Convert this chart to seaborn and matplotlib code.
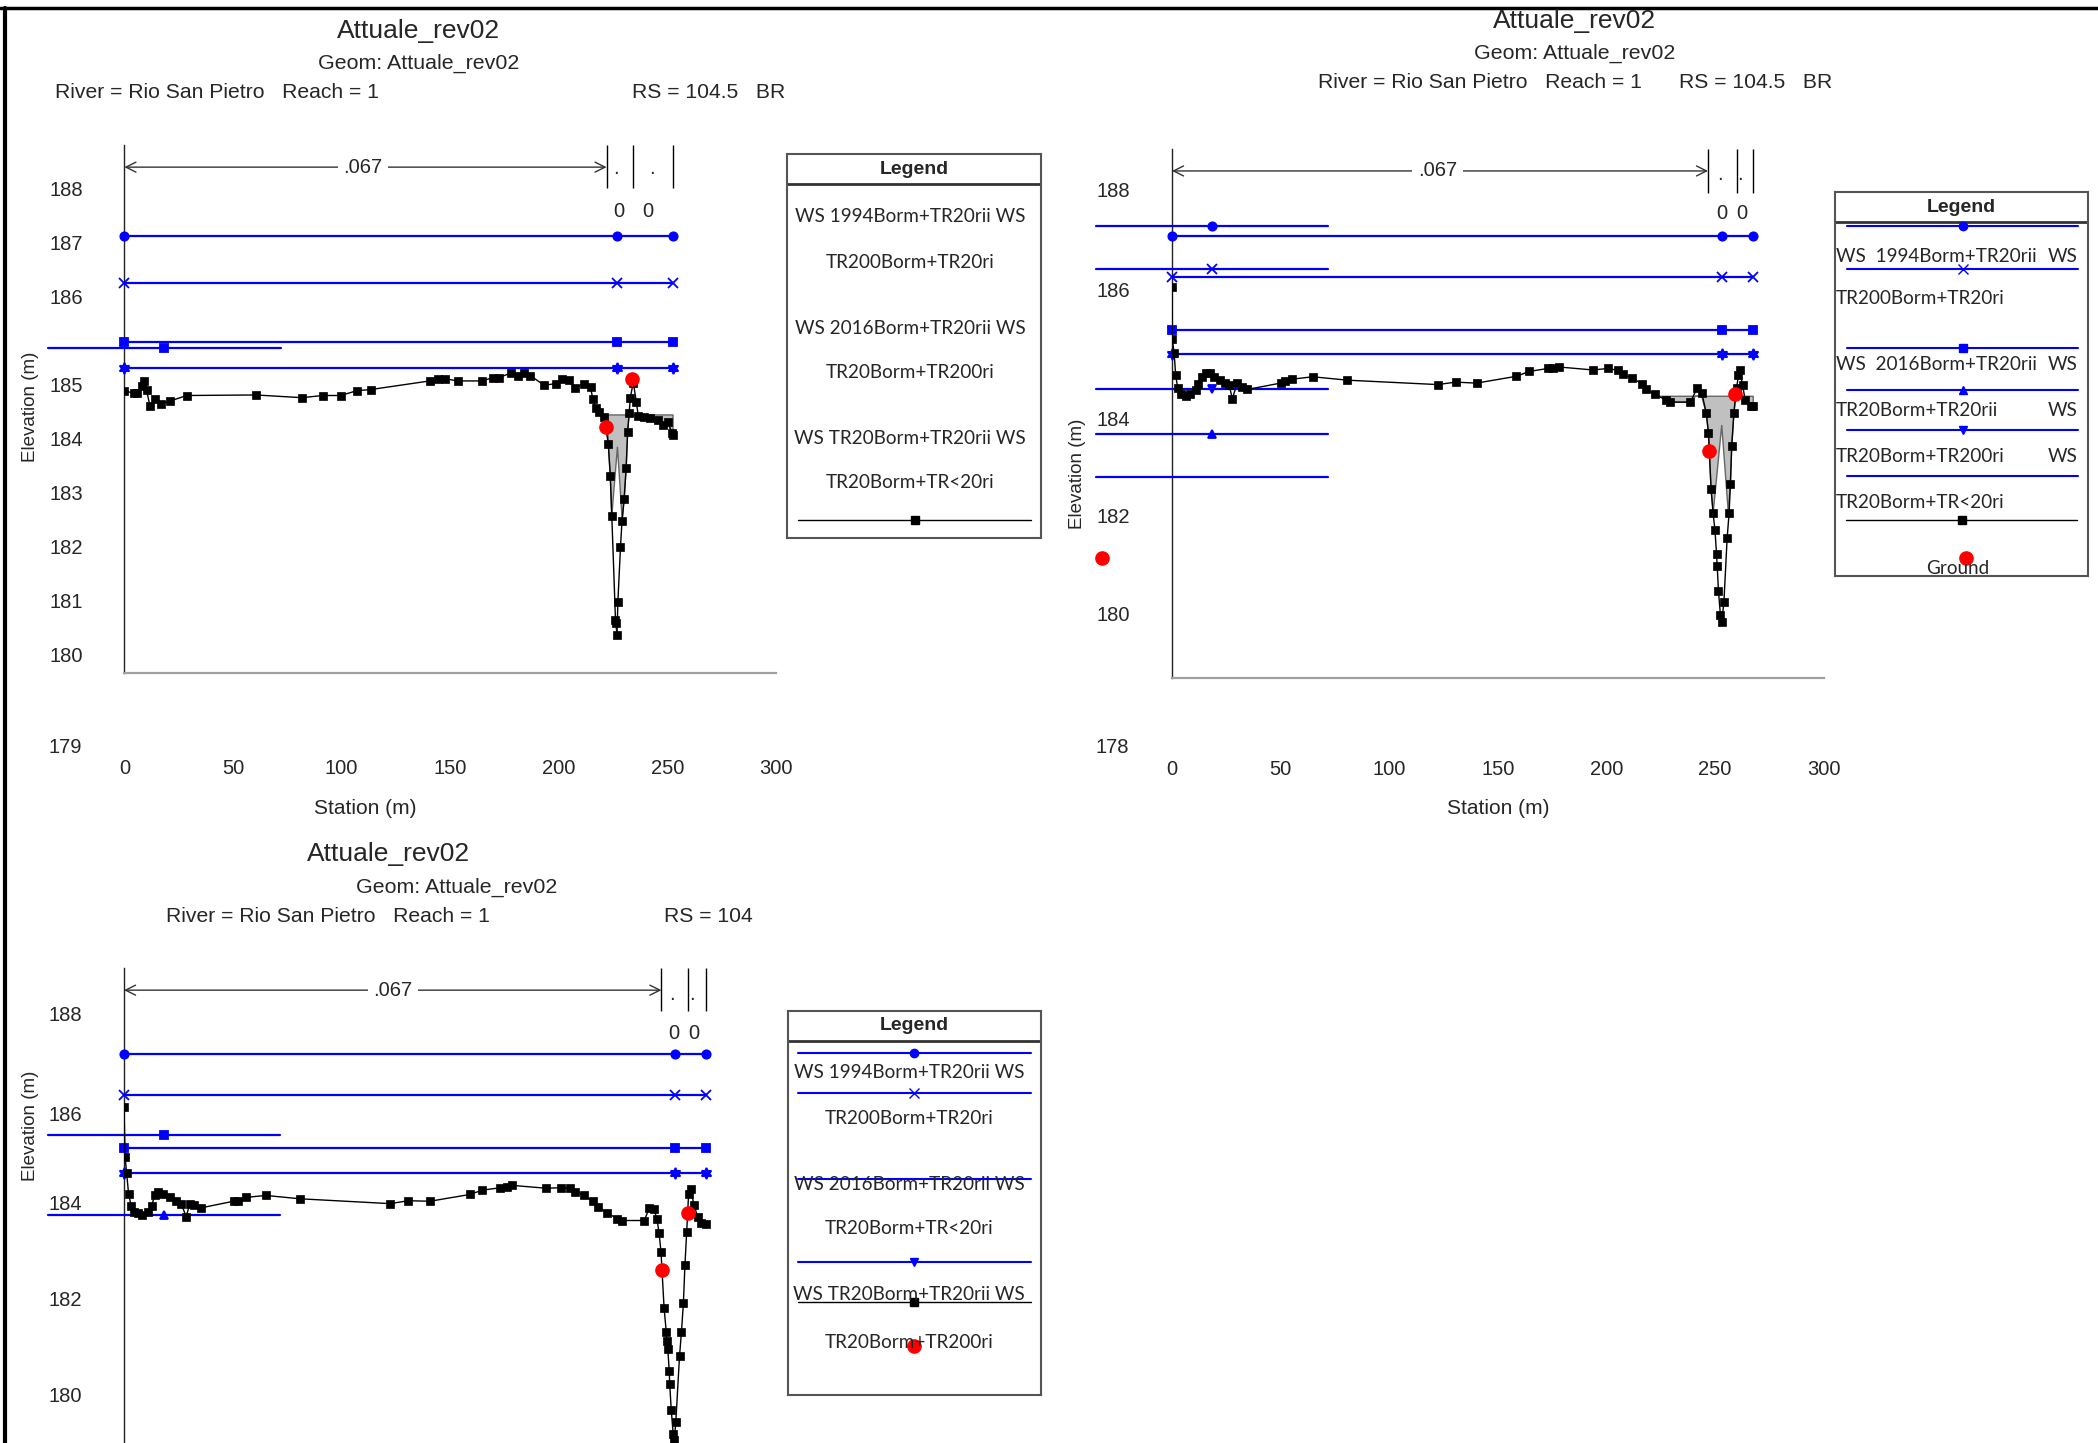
import matplotlib
matplotlib.use('Agg')
import matplotlib.pyplot as plt
from matplotlib.lines import Line2D
from matplotlib.ticker import MultipleLocator
import seaborn as sns

sns.set_style('white')
plt.rcParams['font.family'] = ['Liberation Sans', 'DejaVu Sans']

W, H = 2098, 1443
BLUE = '#0000ff'
STAR = (6, 1, 0)
LEG_FONT = ['Lato', 'DejaVu Sans']

# ---------------- data: station (m), elevation (m) ----------------
x_ticks = [0, 50, 100, 150, 200, 250, 300]
x_ticklabels = ['0', '50', '100', '150', '200', '250', '300']
stray_x = [-35, 72]          # short WS stubs drawn left of the sections
stray_mark_x = 18.4

# RS = 104.5 BR, top left
p1_ground_x = [0, 4.3, 5.7, 8.0, 9.2, 10.2, 11.8, 13.9, 17.0, 21.2, 28.7, 60.4, 81.7, 91.4,
               99.6, 107.1, 113.4, 140.6, 144.2, 147.7, 153.5, 164.8, 169.5, 172.3, 178.2,
               181.0, 183.8, 186.9, 193.2, 198.6, 201.7, 204.5, 207.3, 211.5, 214.6, 215.7,
               216.9, 218.6, 220.9, 222.8, 223.7, 224.4, 226.1, 226.3, 226.8, 227.2, 228.4,
               229.1, 230.1, 231.0, 231.7, 232.4, 232.9, 234.3, 235.7, 236.6, 239.0, 242.0,
               245.5, 247.9, 250.2, 252.1, 252.6]
p1_ground_y = [184.88, 184.83, 184.84, 184.96, 185.06, 184.89, 184.59, 184.72, 184.64, 184.69,
               184.79, 184.80, 184.75, 184.79, 184.79, 184.88, 184.90, 185.06, 185.10, 185.10,
               185.06, 185.06, 185.12, 185.12, 185.21, 185.16, 185.20, 185.16, 184.98, 185.01,
               185.10, 185.08, 184.92, 185.01, 184.94, 184.72, 184.55, 184.49, 184.40, 183.89,
               183.30, 182.56, 180.63, 180.57, 180.35, 180.97, 181.98, 182.47, 182.88, 183.44,
               184.12, 184.46, 184.75, 185.03, 184.67, 184.41, 184.40, 184.38, 184.33, 184.24,
               184.30, 184.09, 184.06]
p1_bank_x = [221.8, 233.8]
p1_bank_y = [184.21, 185.09]
p1_ws_x = [0, 226.7, 252.6]
p1_ws_y = [187.75, 186.88, 185.79, 185.30]
p1_stray_y = [185.67]
p1_deck_x = [222.4, 222.8, 223.7, 224.4, 227.0, 229.2, 230.1, 231.0, 231.7, 232.3, 236.6,
             239.0, 242.0, 245.5, 247.9, 250.2, 252.1, 252.6, 252.6]
p1_deck_y = [184.43, 183.89, 183.30, 182.56, 183.84, 182.48, 182.88, 183.44, 184.12, 184.43,
             184.41, 184.40, 184.38, 184.33, 184.24, 184.30, 184.09, 184.06, 184.43]
p1_n_x = [222.0, 234.0, 252.6]
p1_dot_x = [226.1, 242.7]
p1_zero_x = [227.6, 241.0]
p1_yticks = [180, 181, 182, 183, 184, 185, 186.62, 187.62, 188.62]
p1_yticklabels = ['180', '181', '182', '183', '184', '185', '186', '187', '188']

# RS = 104.5 BR, top right
p2_ground_x = [0.0, 0.1, 1.0, 1.7, 2.6, 4.1, 6.6, 8.4, 10.9, 12.1, 14.0, 15.5, 17.7, 19.2, 22.3,
               24.4, 26.3, 27.8, 30.0, 32.1, 34.6, 50.0, 52.1, 55.2, 64.8, 80.8, 122.3, 130.6,
               140.2, 158.6, 164.5, 173.1, 175.3, 178.3, 193.7, 200.8, 205.4, 207.6, 211.6,
               216.2, 218.4, 222.3, 227.6, 229.4, 238.7, 241.7, 243.9, 246.0, 247.0, 248.2,
               249.1, 250.0, 250.7, 251.0, 251.6, 252.5, 253.1, 254.1, 255.6, 256.5, 257.1,
               257.7, 258.7, 259.9, 260.8, 261.4, 262.7, 263.9, 266.4, 267.6]
p2_ground_y = [186.69, 185.63, 185.33, 184.88, 184.63, 184.49, 184.45, 184.50, 184.57, 184.71,
               184.85, 184.93, 184.92, 184.85, 184.78, 184.72, 184.68, 184.40, 184.72, 184.64,
               184.59, 184.72, 184.76, 184.80, 184.85, 184.78, 184.69, 184.74, 184.72, 184.86,
               184.96, 185.02, 185.03, 185.05, 184.99, 185.02, 184.98, 184.90, 184.83, 184.71,
               184.59, 184.49, 184.37, 184.33, 184.33, 184.61, 184.52, 184.10, 183.69, 182.54,
               182.06, 181.70, 181.22, 180.98, 180.46, 179.96, 179.82, 180.23, 181.55, 182.06,
               182.66, 183.43, 184.10, 184.61, 184.88, 184.98, 184.68, 184.37, 184.25, 184.25]
p2_bank_x = [247.3, 259.3]
p2_bank_y = [183.33, 184.49]
p2_stray_dot = (-32.0, 181.13)
p2_ws_x = [0, 253.1, 267.5]
p2_ws_y = [187.74, 186.90, 185.81, 185.31]
p2_stray_y = [187.94, 187.06, 184.60, 183.67, 182.80]
p2_deck_x = [224.7, 229.4, 238.7, 241.0, 243.9, 246.0, 247.0, 248.2, 249.2, 253.1, 256.1,
             257.1, 257.7, 258.7, 259.4, 263.0, 263.9, 266.4, 267.6, 267.6]
p2_deck_y = [184.45, 184.33, 184.33, 184.45, 184.45, 184.10, 183.69, 182.54, 182.08, 183.86,
             182.08, 182.66, 183.43, 184.10, 184.45, 184.45, 184.37, 184.25, 184.25, 184.45]
p2_n_x = [246.8, 259.9, 267.5]
p2_dot_x = [252.2, 261.4]
p2_zero_x = [253.2, 262.4]
p2_yticks = [180, 182, 184, 186.63, 188.68]
p2_yticklabels = ['180', '182', '184', '186', '188']

# RS = 104, bottom left
p3_ground_x = [0, 0.5, 1.2, 2.1, 3.3, 4.4, 6.3, 8.2, 11.0, 12.7, 14.1, 15.7, 18.1, 21.1, 24.0,
               26.3, 28.6, 30.3, 32.1, 35.2, 50.4, 52.3, 56.3, 65.2, 81.2, 122.5, 130.7, 140.8,
               159.1, 164.9, 173.2, 176.0, 178.4, 194.1, 201.1, 205.3, 207.7, 211.7, 215.7,
               218.0, 222.2, 226.9, 229.3, 239.4, 241.7, 243.8, 245.2, 246.2, 247.1, 248.5,
               249.5, 249.7, 250.2, 250.9, 251.1, 251.8, 252.7, 253.2, 253.9, 255.6, 256.5,
               257.4, 258.1, 258.9, 259.8, 261.0, 262.1, 264.0, 265.6, 267.8]
p3_ground_y = [185.98, 184.94, 184.61, 184.18, 183.92, 183.80, 183.77, 183.74, 183.80, 183.92,
               184.14, 184.21, 184.18, 184.10, 184.02, 183.97, 183.70, 183.97, 183.95, 183.88,
               184.02, 184.03, 184.10, 184.14, 184.07, 183.97, 184.03, 184.02, 184.16, 184.25,
               184.30, 184.32, 184.35, 184.29, 184.30, 184.29, 184.22, 184.14, 184.02, 183.91,
               183.78, 183.66, 183.62, 183.62, 183.88, 183.85, 183.66, 183.36, 182.96, 181.81,
               181.31, 181.11, 180.95, 180.49, 180.22, 179.69, 179.19, 179.07, 179.44, 180.80,
               181.31, 181.91, 182.70, 183.38, 184.18, 184.28, 183.95, 183.70, 183.56, 183.54]
p3_bank_x = [247.4, 259.3]
p3_bank_y = [182.59, 183.77]
p3_ws_x = [0, 253.3, 267.8]
p3_ws_y = [187.07, 186.23, 185.12, 184.60]
p3_stray_y = [185.40, 183.73]
p3_n_x = [247.3, 259.4, 267.7]
p3_dot_x = [252.1, 261.3]
p3_zero_x = [253.1, 262.1]
p3_yticks = [180, 182, 184, 185.85, 187.92]
p3_yticklabels = ['180', '182', '184', '186', '188']

legend1_rows = ['WS 1994Borm+TR20rii WS', 'TR200Borm+TR20ri', 'WS 2016Borm+TR20rii WS',
                'TR20Borm+TR200ri', 'WS TR20Borm+TR20rii WS', 'TR20Borm+TR<20ri']
legend2_rows = [('WS  1994Borm+TR20rii', 'WS'), ('TR200Borm+TR20ri', ''),
                ('WS  2016Borm+TR20rii', 'WS'), ('TR20Borm+TR20rii', 'WS'),
                ('TR20Borm+TR200ri', 'WS'), ('TR20Borm+TR<20ri', '')]
legend3_rows = ['WS 1994Borm+TR20rii WS', 'TR200Borm+TR20ri', 'WS 2016Borm+TR20rii WS',
                'TR20Borm+TR<20ri', 'WS TR20Borm+TR20rii WS', 'TR20Borm+TR200ri']

ws_marks = ['o', 'x', 's', STAR]
mark_size = {'o': 6, 'x': 7, 's': 6, STAR: 8, '^': 6, 'v': 6, None: 0}

fig = plt.figure(figsize=(W / 100, H / 100), dpi=100)


def px_axes(left, top, right, bottom):
    return fig.add_axes([left / W, 1 - bottom / H, (right - left) / W, (bottom - top) / H])


def ftext(x, y, s, size, ha='center', **kw):
    fig.text(x / W, 1 - y / H, s, ha=ha, va='center', fontsize=size, **kw)


def blue_line(ax, xs, y, m, clip=True):
    sns.lineplot(x=xs, y=[y] * len(xs), ax=ax, color=BLUE, lw=1.6, legend=False,
                 clip_on=clip, zorder=3)
    if m is not None:
        ax.plot([stray_mark_x] if not clip else xs, [y] * (1 if not clip else len(xs)),
                ls='none', marker=m, ms=mark_size[m], color=BLUE, mec=BLUE, mew=1.3,
                clip_on=False, zorder=3)


def section(ax, ylim, gx, gy, bx, by, wsx, wsy, stray_y, stray_m, deck_x=None, deck_y=None):
    if deck_x is not None:
        ax.fill(deck_x, deck_y, facecolor='#c0c0c0', edgecolor='#666666', lw=1, zorder=2)
    for y, m in zip(wsy, ws_marks):
        blue_line(ax, wsx, y, m)
    for y, m in zip(stray_y, stray_m):
        blue_line(ax, stray_x, y, m, clip=False)
    sns.lineplot(x=gx, y=gy, ax=ax, sort=False, estimator=None, color='black', lw=1,
                 marker='s', ms=5.5, mec='black', mew=0.5, legend=False, zorder=4)
    ax.plot(bx, by, ls='none', marker='o', ms=9.5, color='red', mec='red', zorder=5)
    ax.set_xlim(0, 300)
    ax.set_ylim(*ylim)
    ax.set_xlabel('')
    ax.set_ylabel('')
    for s in ['top', 'right']:
        ax.spines[s].set_visible(False)
    ax.spines['left'].set_color('#222222')
    ax.spines['left'].set_linewidth(1)
    ax.spines['bottom'].set_color('#a0a0a0')
    ax.spines['bottom'].set_linewidth(1.6)
    ax.xaxis.set_minor_locator(MultipleLocator(10))
    ax.yaxis.set_minor_locator(MultipleLocator(0.5))
    ax.tick_params(axis='x', which='major', direction='out', length=9, width=1,
                   color='#555555', labelsize=14.5)
    ax.tick_params(axis='x', which='minor', direction='out', length=6, width=1, color='#555555')
    ax.tick_params(axis='y', which='major', length=0, pad=30, labelsize=14.5)
    ax.tick_params(axis='y', which='minor', direction='in', length=3, color='#aaaaaa')
    ax.set_xticks(x_ticks, x_ticklabels)


def n_strip(ax, n_x, dot_x, zero_x, y_arrow, y_low, y_dot, y_zero, text_x):
    top = ax.get_ylim()[1]
    ax.annotate('', xy=(0, y_arrow), xytext=(n_x[0], y_arrow),
                arrowprops=dict(arrowstyle='<->', color='#333333', lw=1,
                                shrinkA=0, shrinkB=0, mutation_scale=18))
    ax.text(text_x, y_arrow, '.067', ha='center', va='center', fontsize=14.5,
            bbox=dict(facecolor='white', edgecolor='none', pad=4), zorder=6)
    ax.vlines(n_x, y_low, top, color='black', lw=1, clip_on=False)
    for x in dot_x:
        ax.text(x, y_dot, '.', ha='center', va='center', fontsize=14.5)
    for x in zero_x:
        ax.text(x, y_zero, '0', ha='center', va='center', fontsize=14.5)


def legend_box(x0, y0, x1, y1, header_y):
    lax = fig.add_axes([x0 / W, 1 - y1 / H, (x1 - x0) / W, (y1 - y0) / H])
    lax.set_xlim(x0, x1)
    lax.set_ylim(y1, y0)
    lax.set_xticks([])
    lax.set_yticks([])
    for s in lax.spines.values():
        s.set_color('#555555')
        s.set_linewidth(1.5)
    lax.axhline(header_y, color='#333333', lw=2)
    lax.text((x0 + x1) / 2, (y0 + header_y) / 2, 'Legend', ha='center', va='center',
             weight='bold', fontsize=14)
    return lax


def leg_sample(lax, xa, xb, y, color, m, lw=1.5):
    lax.plot([xa, xb], [y, y], color=color, lw=lw)
    if m is not None:
        lax.plot([(xa + xb) / 2], [y], marker=m, ms=mark_size[m] if m in mark_size else 6,
                 color=color, mec=color, ls='none')


# ---------------- panel 1: RS 104.5 BR (top left) ----------------
ax1 = px_axes(124.4, 145, 776, 673)
section(ax1, (179.65, 189.43), p1_ground_x, p1_ground_y, p1_bank_x, p1_bank_y,
        p1_ws_x, p1_ws_y, p1_stray_y, ['s'], p1_deck_x, p1_deck_y)
ax1.set_yticks(p1_yticks, p1_yticklabels)
ax1.tick_params(axis='x', which='major', pad=53)
ax1.text(-0.0645, 178.31, '179', transform=ax1.get_yaxis_transform(), ha='right',
         va='center_baseline', fontsize=14.5, clip_on=False)
n_strip(ax1, p1_n_x, p1_dot_x, p1_zero_x, 189.02, 188.63, 189.0, 188.2, 109.8)
ax1.set_xlabel('Station (m)', fontsize=15)
ax1.xaxis.set_label_coords(0.369, -0.239)
ax1.set_ylabel('Elevation (m)', fontsize=13.5)
ax1.yaxis.set_label_coords(-0.131, 0.504)

ftext(419, 31, 'Attuale_rev02', 19)
ftext(419, 63, 'Geom: Attuale_rev02', 15.4)
ftext(55, 93, 'River = Rio San Pietro   Reach = 1', 15.2, ha='left')
ftext(632, 93, 'RS = 104.5   BR', 15.2, ha='left')

lg1 = legend_box(787, 154, 1041, 538, 184)
for y, s in zip([217, 262, 328, 373, 439, 483], legend1_rows):
    lg1.text(910, y, s, ha='center', va='center', fontsize=13.6, family=LEG_FONT)
leg_sample(lg1, 798, 1031, 520, 'black', 's', lw=1)

# ---------------- panel 2: RS 104.5 BR (top right) ----------------
ax2 = px_axes(1172, 149, 1823.6, 677.7)
section(ax2, (178.68, 189.52), p2_ground_x, p2_ground_y, p2_bank_x, p2_bank_y,
        p2_ws_x, p2_ws_y, p2_stray_y, ['o', 'x', 'v', '^', None], p2_deck_x, p2_deck_y)
ax2.plot([p2_stray_dot[0]], [p2_stray_dot[1]], marker='o', ms=9.5, color='red', mec='red',
         clip_on=False)
ax2.set_yticks(p2_yticks, p2_yticklabels)
ax2.tick_params(axis='x', which='major', pad=50)
ax2.text(-0.066, 177.29, '178', transform=ax2.get_yaxis_transform(), ha='right',
         va='center_baseline', fontsize=14.5, clip_on=False)
n_strip(ax2, p2_n_x, p2_dot_x, p2_zero_x, 189.07, 188.62, 189.0, 188.2, 122.3)
ax2.set_xlabel('Station (m)', fontsize=15)
ax2.xaxis.set_label_coords(0.5, -0.229)
ax2.set_ylabel('Elevation (m)', fontsize=13.5)
ax2.yaxis.set_label_coords(-0.132, 0.385)

ftext(1575, 21, 'Attuale_rev02', 19)
ftext(1575, 53, 'Geom: Attuale_rev02', 15.4)
ftext(1318, 83, 'River = Rio San Pietro   Reach = 1', 15.2, ha='left')
ftext(1679, 83, 'RS = 104.5   BR', 15.2, ha='left')

lg2 = legend_box(1835, 192, 2088, 576, 222)
for y, m in zip([226, 269, 348, 390, 430], ['o', 'x', 's', '^', 'v']):
    leg_sample(lg2, 1847, 2078, y, BLUE, m)
leg_sample(lg2, 1847, 2078, 476, BLUE, None)
for y, (left, right) in zip([256, 298, 365, 410, 456, 502], legend2_rows):
    lg2.text(1836, y, left, ha='left', va='center', fontsize=13.6, family=LEG_FONT)
    if right:
        lg2.text(2078, y, right, ha='right', va='center', fontsize=13.6, family=LEG_FONT)
leg_sample(lg2, 1846, 2077, 520, 'black', 's', lw=1)
lg2.plot([1966], [558], marker='o', ms=9.5, color='red', mec='red', ls='none')
lg2.text(1958, 568, 'Ground', ha='center', va='center', fontsize=13.6, family=LEG_FONT)

# ---------------- panel 3: RS 104 (bottom left) ----------------
ax3 = px_axes(124, 968, 776, 1460)
section(ax3, (178.65, 188.86), p3_ground_x, p3_ground_y, p3_bank_x, p3_bank_y,
        p3_ws_x, p3_ws_y, p3_stray_y, ['s', '^'])
ax3.set_yticks(p3_yticks, p3_yticklabels)
ax3.spines['bottom'].set_visible(False)
ax3.tick_params(axis='x', which='both', length=0, labelbottom=False)
n_strip(ax3, p3_n_x, p3_dot_x, p3_zero_x, 188.40, 187.97, 188.3, 187.5, 123.7)
ax3.set_ylabel('Elevation (m)', fontsize=13.5)
ax3.yaxis.set_label_coords(-0.131, 0.679)

ftext(389, 854, 'Attuale_rev02', 19)
ftext(457, 887, 'Geom: Attuale_rev02', 15.4)
ftext(166, 916, 'River = Rio San Pietro   Reach = 1', 15.2, ha='left')
ftext(664, 916, 'RS = 104', 15.2, ha='left')

lg3 = legend_box(788, 1011, 1041, 1395, 1041)
leg_sample(lg3, 798, 1031, 1053, BLUE, 'o')
leg_sample(lg3, 798, 1031, 1093, BLUE, 'x')
leg_sample(lg3, 798, 1031, 1179, BLUE, None)
leg_sample(lg3, 798, 1031, 1262, BLUE, 'v')
for y, s in zip([1073, 1118, 1184, 1229, 1295, 1342], legend3_rows):
    lg3.text(909, y, s, ha='center', va='center', fontsize=13.6, family=LEG_FONT)
leg_sample(lg3, 798, 1031, 1302, 'black', 's', lw=1)
lg3.plot([914], [1346], marker='o', ms=9.5, color='red', mec='red', ls='none')

# page frame (top and left edges)
fig.add_artist(Line2D([0, 1], [1 - 8 / H, 1 - 8 / H], color='black', lw=2.5))
fig.add_artist(Line2D([5 / W, 5 / W], [0, 1 - 8 / H], color='black', lw=3))

fig.savefig('out.png', dpi=100)
